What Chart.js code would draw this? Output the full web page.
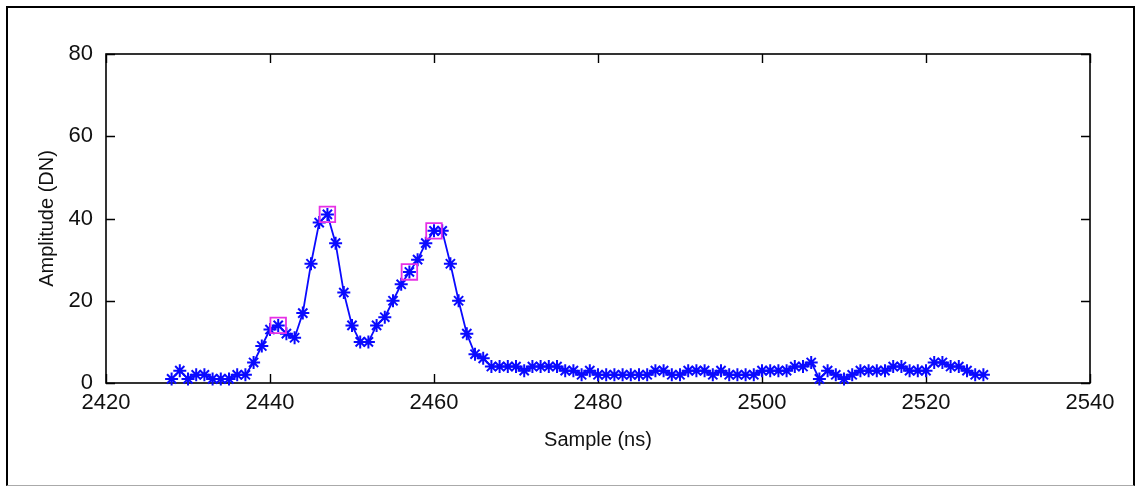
<!DOCTYPE html>
<html>
<head>
<meta charset="utf-8">
<script src="https://cdn.jsdelivr.net/npm/chart.js@4.4.1/dist/chart.umd.min.js"></script>
<style>
  html, body { margin: 0; padding: 0; background: #fff; }
  #wrap { position: relative; width: 1142px; height: 487px; overflow: hidden; }
  #frame { position: absolute; left: 6px; top: 6px; width: 1125px; height: 477px;
           border-top: 2px solid #000; border-left: 2px solid #000; border-right: 2px solid #000;
           border-bottom: 1px solid #aaa; }
  canvas { position: absolute; left: 0; top: 0; }
</style>
</head>
<body>
<div id="wrap">
  <div id="frame"></div>
  <canvas id="c" width="1142" height="487"></canvas>
</div>
<script>
// Sample times (ns)
const samples = [
  2428, 2429, 2430, 2431, 2432, 2433, 2434, 2435, 2436, 2437,
  2438, 2439, 2440, 2441, 2442, 2443, 2444, 2445, 2446, 2447,
  2448, 2449, 2450, 2451, 2452, 2453, 2454, 2455, 2456, 2457,
  2458, 2459, 2460, 2461, 2462, 2463, 2464, 2465, 2466, 2467,
  2468, 2469, 2470, 2471, 2472, 2473, 2474, 2475, 2476, 2477,
  2478, 2479, 2480, 2481, 2482, 2483, 2484, 2485, 2486, 2487,
  2488, 2489, 2490, 2491, 2492, 2493, 2494, 2495, 2496, 2497,
  2498, 2499, 2500, 2501, 2502, 2503, 2504, 2505, 2506, 2507,
  2508, 2509, 2510, 2511, 2512, 2513, 2514, 2515, 2516, 2517,
  2518, 2519, 2520, 2521, 2522, 2523, 2524, 2525, 2526, 2527
];
// Amplitude (DN)
const amplitude = [
  1, 3, 1, 2, 2, 1, 1, 1, 2, 2,
  5, 9, 13, 14, 12, 11, 17, 29, 39, 41,
  34, 22, 14, 10, 10, 14, 16, 20, 24, 27,
  30, 34, 37, 37, 29, 20, 12, 7, 6, 4,
  4, 4, 4, 3, 4, 4, 4, 4, 3, 3,
  2, 3, 2, 2, 2, 2, 2, 2, 2, 3,
  3, 2, 2, 3, 3, 3, 2, 3, 2, 2,
  2, 2, 3, 3, 3, 3, 4, 4, 5, 1,
  3, 2, 1, 2, 3, 3, 3, 3, 4, 4,
  3, 3, 3, 5, 5, 4, 4, 3, 2, 2
];
// Detected peaks
const peakSamples = [2441, 2447, 2457, 2460];
const peakValues = [14, 41, 27, 37];

// Axis ticks
const xTicks = [2420, 2440, 2460, 2480, 2500, 2520, 2540];
const yTicks = [0, 20, 40, 60, 80];

const seriesPoints = samples.map((s, i) => ({ x: s, y: amplitude[i] }));
const peakPoints = peakSamples.map((s, i) => ({ x: s, y: peakValues[i] }));

const boxPlugin = {
  id: 'matlabBox',
  beforeDatasetsDraw(chart) {
    const { ctx, chartArea: a, scales: { x, y } } = chart;
    ctx.save();
    ctx.strokeStyle = '#000';
    ctx.lineWidth = 1.6;
    ctx.strokeRect(a.left, a.top, a.right - a.left, a.bottom - a.top);
    ctx.beginPath();
    const tl = 9;
    xTicks.forEach(v => {
      const px = Math.round(x.getPixelForValue(v)) + 0.5;
      ctx.moveTo(px, a.bottom); ctx.lineTo(px, a.bottom - tl);
      ctx.moveTo(px, a.top); ctx.lineTo(px, a.top + tl);
    });
    yTicks.forEach(v => {
      const py = Math.round(y.getPixelForValue(v)) + 0.5;
      ctx.moveTo(a.left, py); ctx.lineTo(a.left + tl, py);
      ctx.moveTo(a.right, py); ctx.lineTo(a.right - tl, py);
    });
    ctx.lineWidth = 1.4;
    ctx.stroke();
    ctx.restore();
  }
};

const FONT = "'Liberation Sans', Arial, Helvetica, sans-serif";

new Chart(document.getElementById('c'), {
  type: 'scatter',
  data: {
    datasets: [
      {
        label: 'Peaks',
        data: peakPoints,
        showLine: false,
        pointStyle: 'rect',
        pointRadius: 11,
        pointBorderColor: '#e630e6',
        pointBackgroundColor: 'rgba(0,0,0,0)',
        pointBorderWidth: 1.8,
        clip: false,
        order: 0
      },
      {
        label: 'Amplitude',
        data: seriesPoints,
        showLine: true,
        borderColor: '#0a0aff',
        borderWidth: 1.8,
        pointStyle: 'star',
        pointRadius: 6.5,
        pointBorderColor: '#0a0aff',
        pointBackgroundColor: '#0a0aff',
        pointBorderWidth: 2,
        tension: 0,
        clip: false,
        order: 1
      }
    ]
  },
  options: {
    responsive: false,
    animation: false,
    devicePixelRatio: 1,
    layout: { padding: { left: 0, top: 54, right: 52, bottom: 0 } },
    plugins: { legend: { display: false }, tooltip: { enabled: false } },
    scales: {
      x: {
        type: 'linear',
        min: 2420, max: 2540,
        afterBuildTicks: (s) => { s.ticks = xTicks.map(v => ({ value: v })); },
        afterFit: (s) => { s.height = 104; },
        grid: { display: false, drawTicks: false },
        border: { display: false },
        ticks: { color: '#111', font: { family: FONT, size: 22 }, padding: 7, maxRotation: 0,
                 callback: (v) => String(v) },
        title: { display: true, text: 'Sample (ns)', color: '#111',
                 font: { family: FONT, size: 20 }, padding: { top: 0, bottom: 35 } }
      },
      y: {
        type: 'linear',
        min: 0, max: 80,
        afterBuildTicks: (s) => { s.ticks = yTicks.map(v => ({ value: v })); },
        afterFit: (s) => { s.width = 106; },
        grid: { display: false, drawTicks: false },
        border: { display: false },
        ticks: { color: '#111', font: { family: FONT, size: 22 }, padding: 13,
                 callback: (v) => String(v) },
        title: { display: true, text: 'Amplitude (DN)', color: '#111',
                 font: { family: FONT, size: 20 }, padding: { top: 35, bottom: 0 } }
      }
    }
  },
  plugins: [boxPlugin]
});
</script>
</body>
</html>
